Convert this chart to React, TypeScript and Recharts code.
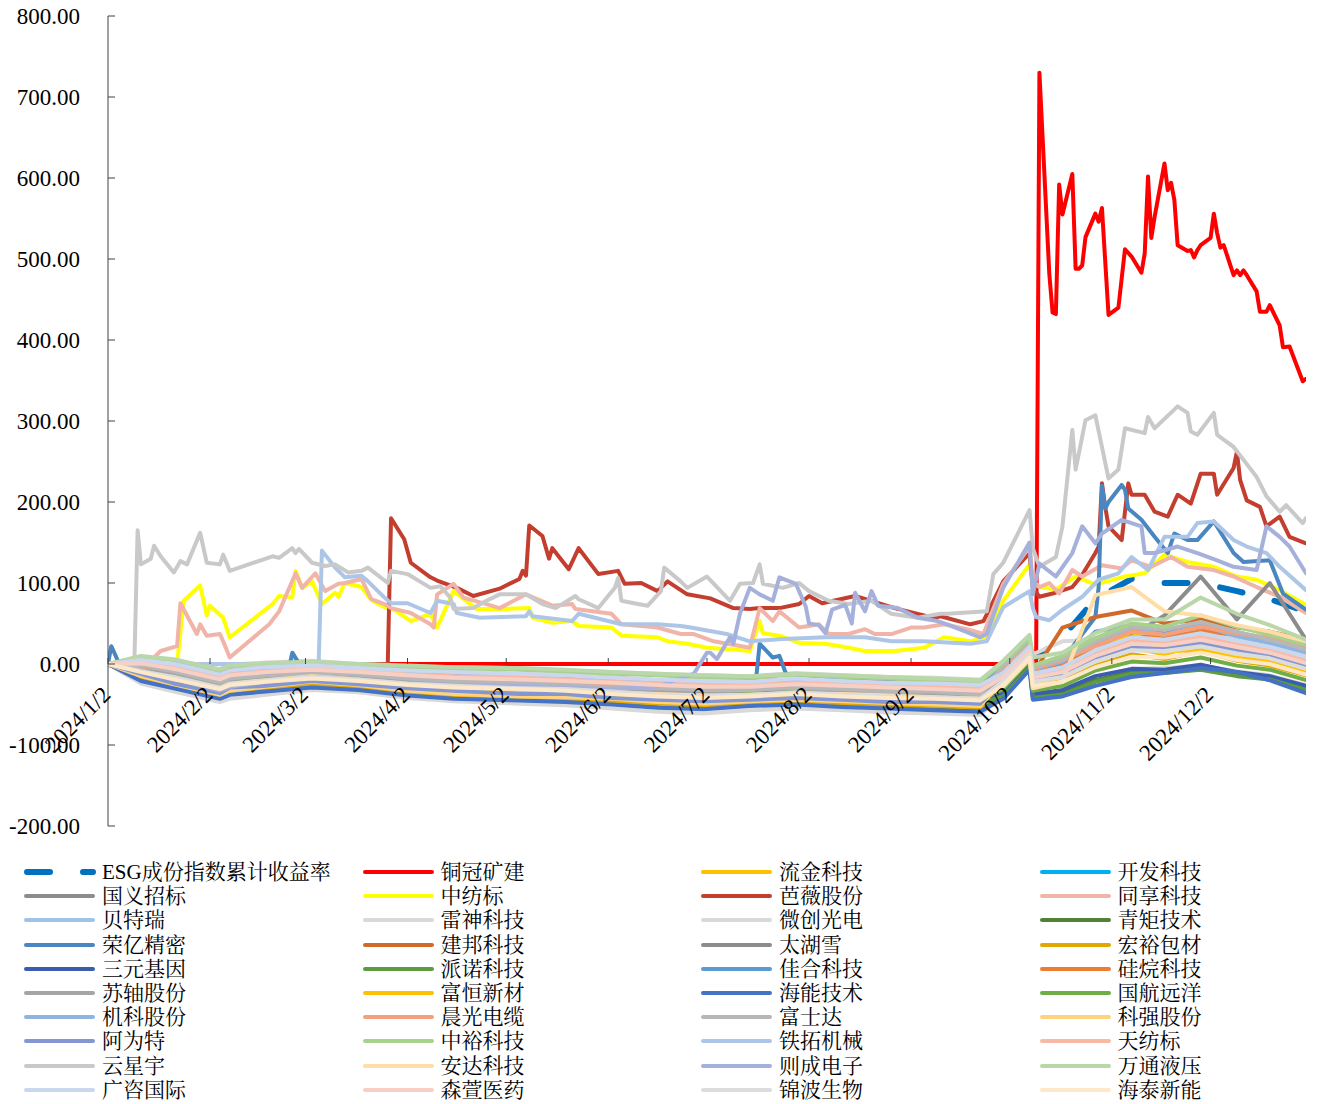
import React from 'react';
import { LineChart, Line, XAxis, YAxis } from 'recharts';

const FONT = "'Liberation Serif', 'Times New Roman', 'Noto Serif CJK SC', 'Noto Sans CJK SC', serif";

const CHART_W = 1317;
const CHART_H = 858;
const PLOT_TOP = 16;
const PLOT_H = 810;
const Y_MIN = -200;
const Y_MAX = 800;
const ZERO_Y = PLOT_TOP + (Y_MAX / (Y_MAX - Y_MIN)) * PLOT_H;

// axis labels
const monthTicks = ['1/2', '2/2', '3/2', '4/2', '5/2', '6/2', '7/2', '8/2', '9/2', '10/2', '11/2', '12/2'];
const yTicks = [-200, -100, 0, 100, 200, 300, 400, 500, 600, 700, 800];

// coarse date grid used by the crowded series near zero
const gridDates = ['1/2', '1/12', '1/22', '2/5', '2/8', '2/19', '3/4', '3/18', '4/2', '4/16', '5/6', '5/20', '6/3', '6/17', '7/1', '7/15',
  '7/29', '8/12', '8/26', '9/9', '9/23', '9/30', '10/8', '10/9', '10/18', '10/28', '11/8', '11/18', '11/29', '12/10', '12/20', '12/31'];

const esg = [0, -6, -13, -26, -20, -17, -12, -15, -21, -23, -25, -27, -30, -33, -35, -34, -31, -34, -36, -37, -39, -10, 20, 5, 33, 80, 105, 100, 100, 90, 80, 65];
const liujin = [0, -14, -26, -38, -30, -27, -24, -25, -34, -38, -41, -39, -44, -46, -50, -45, -42, -47, -49, -51, -53, -22, 14, -24, -14, 6, 20, 12, 25, 10, 5, -8];
const kaifa = [0, -1, -10, -20, -14, -12, -7, -13, -18, -20, -22, -21, -27, -29, -31, -28, -25, -30, -32, -34, -36, -15, 18, -18, -8, 12, 28, 20, 32, 18, 12, -2];
const guoyi = [0, -6, -14, -26, -19, -17, -11, -16, -21, -24, -26, -28, -31, -33, -36, -33, -30, -34, -36, -38, -40, -6, 25, -10, 2, 22, 40, 30, 45, 30, 22, 10];
const beiterui = [0, 2, -5, -18, -13, -9, -6, -11, -15, -17, -19, -20, -24, -25, -29, -27, -24, -28, -29, -31, -33, -12, 20, -15, -5, 15, 30, 24, 36, 22, 16, 3];
const leishen = [0, 9, 5, -6, -1, 2, 4, 0, -3, -4, -5, -8, -10, -12, -14, -15, -11, -14, -16, -17, -19, -3, 32, 12, 28, 30, 38, 34, 40, 32, 26, 12];
const weichuang = [0, -24, -34, -47, -43, -38, -32, -35, -42, -46, -49, -51, -55, -59, -61, -57, -55, -57, -60, -61, -63, -36, 0, -38, -33, -17, -6, -5, -2, -9, -14, -26];
const qingju = [0, -19, -29, -42, -37, -33, -27, -30, -37, -41, -43, -44, -48, -52, -54, -50, -48, -51, -53, -54, -56, -38, -3, -40, -36, -20, -10, -9, -5, -13, -17, -30];
const jianbang = [0, 4, -2, -12, -6, -4, -1, -4, -5, -9, -13, -14, -17, -20, -22, -21, -19, -22, -23, -25, -27, -10, 22, -12, 45, 58, 66, 50, 55, 45, 40, 30];
const taihuxue = [0, -8, -13, -28, -21, -19, -15, -17, -23, -25, -27, -30, -33, -35, -37, -35, -33, -36, -38, -39, -41, -18, 15, -20, -12, 10, 35, 60, 108, 55, 100, 30];
const hongyu = [0, -16, -27, -40, -35, -30, -26, -28, -35, -39, -44, -45, -46, -49, -52, -48, -46, -49, -51, -52, -54, -27, 8, -28, -21, -2, 12, 6, 16, 4, -2, -14];
const sanyuan = [0, -13, -23, -35, -31, -26, -22, -24, -31, -34, -36, -38, -41, -45, -47, -43, -41, -44, -46, -48, -50, -35, 2, -37, -32, -15, -6, -7, -1, -10, -15, -27];
const painuo = [0, -11, -21, -36, -30, -24, -20, -23, -29, -32, -34, -36, -40, -42, -45, -41, -39, -42, -45, -46, -48, -40, -4, -42, -38, -22, -12, -11, -7, -15, -19, -32];
const jiahe = [0, 3, -3, -16, -11, -8, -4, -9, -12, -15, -17, -19, -21, -23, -26, -25, -22, -25, -27, -29, -31, -6, 28, -8, 0, 40, 48, 40, 50, 38, 30, 18];
const guiwan = [0, -4, -11, -22, -17, -15, -10, -14, -19, -20, -24, -25, -28, -31, -33, -31, -28, -32, -33, -35, -37, -9, 21, -11, -2, 18, 34, 33, 40, 36, 32, 22];
const suzhou = [0, -4, -12, -24, -21, -16, -13, -15, -20, -22, -25, -27, -30, -34, -35, -34, -31, -33, -35, -37, -39, -17, 15, -17, -11, 9, 24, 23, 28, 20, 14, 2];
const fuheng = [0, -9, -19, -30, -27, -22, -18, -21, -27, -30, -32, -33, -37, -40, -42, -39, -37, -40, -42, -43, -45, -25, 8, -26, -15, 12, 40, 15, 18, 8, 2, -10];
const haineng = [0, -21, -30, -43, -38, -34, -29, -32, -39, -43, -45, -47, -50, -54, -56, -52, -50, -53, -55, -57, -59, -43, -7, -44, -40, -27, -16, -11, -5, -10, -20, -36];
const guohang = [0, -8, -17, -29, -24, -20, -16, -19, -25, -27, -30, -32, -35, -38, -40, -37, -35, -38, -40, -42, -44, -31, 4, -33, -27, -8, 3, 1, 8, -2, -7, -20];
const jike = [0, 4, -1, -14, -9, -6, -3, -7, -10, -12, -15, -16, -19, -21, -24, -23, -20, -23, -25, -26, -29, -5, 26, -7, 3, 26, 44, 36, 48, 34, 26, 14];
const chenguang = [0, -3, -7, -22, -15, -11, -9, -12, -17, -19, -20, -23, -25, -28, -30, -29, -27, -29, -31, -33, -35, -4, 27, -6, 5, 22, 40, 36, 46, 38, 32, 22];
const fushida = [0, -2, -9, -23, -18, -14, -11, -13, -18, -21, -23, -26, -29, -30, -32, -32, -29, -31, -34, -34, -38, -2, 28, -4, 6, 28, 46, 42, 52, 40, 30, 18];
const keqiang = [0, -15, -25, -38, -33, -28, -22, -26, -33, -37, -40, -41, -43, -47, -49, -46, -44, -46, -48, -50, -52, -20, 12, -22, -16, 4, 18, 15, 22, 12, 8, -5];
const aweite = [0, -12, -24, -36, -29, -27, -21, -25, -30, -33, -37, -37, -42, -44, -46, -44, -42, -44, -47, -47, -49, -18, 14, -20, -12, 8, 22, 18, 26, 16, 9, -3];
const zhongyu = [0, 8, 5, -8, -3, 0, 2, -2, -4, -6, -7, -10, -12, -14, -17, -17, -13, -16, -18, -20, -22, 2, 32, -2, 10, 32, 50, 46, 60, 46, 36, 24];
const tianfangbiao = [0, 2, -4, -17, -13, -9, -5, -8, -13, -15, -16, -19, -22, -24, -25, -26, -23, -24, -26, -28, -30, -12, 18, -14, -6, 14, 28, 26, 34, 24, 18, 6];
const anda = [0, -8, -18, -30, -25, -20, -15, -19, -25, -28, -29, -31, -35, -37, -39, -38, -36, -37, -39, -41, -43, -28, 6, -30, -22, 85, 95, 65, 60, 48, 40, 28];
const wantong = [0, 10, 6, -7, -2, 1, 3, 0, -2, -4, -5, -7, -10, -12, -14, -15, -12, -14, -16, -18, -20, 4, 36, 8, 14, 38, 55, 55, 82, 62, 48, 30];
const guangzi = [0, 5, 0, -13, -8, -4, -2, -5, -8, -10, -12, -14, -17, -19, -21, -22, -18, -21, -23, -24, -26, -11, 21, -12, -4, 17, 33, 30, 38, 29, 21, 9];
const senxuan = [0, 1, -6, -19, -14, -10, -7, -10, -14, -17, -19, -21, -23, -26, -28, -28, -25, -27, -29, -31, -33, -16, 16, -17, -10, 10, 25, 23, 30, 21, 14, 1];
const jinbo = [0, -9, -16, -29, -24, -20, -16, -19, -24, -27, -30, -31, -34, -38, -40, -38, -35, -38, -40, -41, -43, -21, 12, -22, -16, 3, 17, 16, 22, 13, 7, -6];
const haitai = [0, -10, -19, -31, -26, -22, -18, -21, -26, -29, -31, -33, -37, -40, -42, -40, -37, -40, -42, -43, -45, -26, 8, -27, -22, -4, 9, 8, 14, 5, 0, -13];

type Pt = [string, number];

// series that stand out get their own dates
const tongguan: Pt[] = [['1/2', 0], ['10/10', 0], ['10/11', 730], ['10/14', 482], ['10/15', 434], ['10/16', 432], ['10/17', 592], ['10/18', 555],
  ['10/21', 605], ['10/22', 488], ['10/23', 488], ['10/24', 492], ['10/25', 527], ['10/28', 556], ['10/29', 546], ['10/30', 563], ['11/1', 431],
  ['11/4', 440], ['11/6', 512], ['11/8', 503], ['11/11', 483], ['11/12', 507], ['11/13', 602], ['11/14', 526], ['11/15', 552], ['11/18', 618],
  ['11/19', 585], ['11/20', 594], ['11/21', 573], ['11/22', 517], ['11/25', 510], ['11/26', 511], ['11/27', 502], ['11/28', 511], ['11/29', 517],
  ['12/2', 526], ['12/3', 556], ['12/4', 532], ['12/5', 514], ['12/6', 517], ['12/9', 480], ['12/10', 486], ['12/11', 480], ['12/12', 486],
  ['12/13', 480], ['12/16', 460], ['12/17', 435], ['12/19', 435], ['12/20', 443], ['12/23', 418], ['12/24', 391], ['12/26', 392], ['12/30', 349], ['12/31', 352]];

const zhongfangbiao: Pt[] = [['1/2', 0], ['1/23', 0], ['1/25', 78], ['1/30', 97], ['2/1', 60], ['2/2', 72], ['2/6', 57], ['2/8', 33], ['2/21', 74],
  ['2/23', 84], ['2/27', 82], ['2/28', 115], ['3/1', 94], ['3/4', 102], ['3/7', 74], ['3/11', 88], ['3/12', 83], ['3/14', 100], ['3/19', 95],
  ['3/22', 79], ['3/26', 70], ['3/29', 67], ['4/3', 53], ['4/9', 62], ['4/11', 45], ['4/16', 90], ['4/23', 68], ['4/30', 68], ['5/9', 69],
  ['5/10', 57], ['5/16', 51], ['5/22', 53], ['5/24', 47], ['6/3', 45], ['6/6', 35], ['6/17', 33], ['6/20', 28], ['6/26', 25], ['7/2', 20],
  ['7/10', 18], ['7/15', 16], ['7/18', 53], ['7/19', 38], ['7/24', 35], ['7/30', 26], ['8/7', 25], ['8/14', 20], ['8/19', 16], ['8/28', 16],
  ['9/6', 20], ['9/12', 33], ['9/20', 28], ['9/25', 33], ['9/30', 78], ['10/8', 123], ['10/9', 102], ['10/11', 95], ['10/16', 92], ['10/22', 108],
  ['10/28', 98], ['11/6', 108], ['11/12', 112], ['11/18', 135], ['11/25', 126], ['12/3', 120], ['12/10', 108], ['12/16', 104], ['12/23', 91], ['12/31', 73]];

const tongxiang: Pt[] = [['1/2', 0], ['1/5', -6], ['1/10', -4], ['1/16', 8], ['1/18', 16], ['1/23', 22], ['1/24', 75], ['1/29', 37], ['1/30', 49],
  ['2/1', 35], ['2/5', 37], ['2/6', 28], ['2/8', 8], ['2/20', 49], ['2/23', 65], ['2/28', 112], ['3/1', 94], ['3/5', 112], ['3/8', 90], ['3/12', 99],
  ['3/14', 100], ['3/19', 105], ['3/22', 80], ['3/26', 74], ['3/28', 69], ['4/3', 63], ['4/9', 49], ['4/10', 45], ['4/11', 86], ['4/16', 99],
  ['4/19', 82], ['4/26', 74], ['4/30', 69], ['5/8', 86], ['5/16', 72], ['5/22', 74], ['5/23', 68], ['6/3', 62], ['6/6', 49], ['6/17', 45],
  ['6/24', 37], ['6/28', 37], ['7/4', 28], ['7/15', 20], ['7/18', 69], ['7/22', 53], ['7/24', 65], ['7/30', 45], ['8/5', 49], ['8/8', 37],
  ['8/14', 37], ['8/19', 43], ['8/22', 37], ['8/27', 37], ['9/2', 45], ['9/6', 45], ['9/12', 49], ['9/19', 43], ['9/24', 37], ['9/30', 99],
  ['10/8', 145], ['10/9', 100], ['10/11', 95], ['10/14', 100], ['10/17', 87], ['10/21', 116], ['10/24', 108], ['10/30', 122], ['11/5', 118],
  ['11/8', 128], ['11/14', 120], ['11/20', 132], ['11/25', 120], ['12/3', 116], ['12/9', 108], ['12/16', 95], ['12/23', 83], ['12/31', 63]];

const baowei: Pt[] = [['1/2', 0], ['3/27', 0], ['3/28', 180], ['4/1', 154], ['4/3', 125], ['4/9', 107], ['4/11', 103], ['4/17', 94], ['4/22', 84],
  ['4/30', 93], ['5/6', 105], ['5/7', 115], ['5/8', 109], ['5/9', 171], ['5/13', 158], ['5/15', 130], ['5/16', 143], ['5/21', 117], ['5/24', 143],
  ['5/30', 111], ['6/5', 115], ['6/7', 99], ['6/12', 100], ['6/17', 90], ['6/20', 102], ['6/26', 86], ['7/3', 81], ['7/10', 69], ['7/15', 68],
  ['7/18', 69], ['7/24', 69], ['7/30', 74], ['8/2', 84], ['8/6', 75], ['8/16', 84], ['8/28', 69], ['9/9', 57], ['9/11', 59], ['9/20', 49],
  ['9/24', 53], ['9/30', 102], ['10/8', 137], ['10/9', 94], ['10/11', 83], ['10/15', 87], ['10/21', 95], ['10/24', 110], ['10/28', 137],
  ['10/29', 145], ['10/30', 223], ['10/31', 194], ['11/1', 170], ['11/5', 153], ['11/7', 223], ['11/8', 209], ['11/12', 209], ['11/15', 188],
  ['11/19', 182], ['11/22', 209], ['11/26', 198], ['11/29', 235], ['12/3', 235], ['12/4', 209], ['12/9', 242], ['12/10', 262], ['12/11', 227],
  ['12/13', 202], ['12/17', 194], ['12/19', 170], ['12/23', 182], ['12/26', 157], ['12/31', 149]];

const rongyi: Pt[] = [['1/2', 0], ['1/3', 22], ['1/5', 4], ['1/12', -4], ['1/22', -14], ['2/5', -28], ['2/8', -24], ['2/19', -20], ['2/26', -5],
  ['2/27', 14], ['3/1', -6], ['3/18', -14], ['4/2', -16], ['4/16', -19], ['5/6', -21], ['5/20', -23], ['6/3', -26], ['6/17', -28], ['7/1', -30],
  ['7/15', -25], ['7/17', -15], ['7/18', 25], ['7/22', 8], ['7/24', 10], ['7/26', -12], ['8/12', -20], ['8/26', -22], ['9/9', -24], ['9/23', -26],
  ['9/30', -5], ['10/8', 30], ['10/9', -8], ['10/18', 5], ['10/28', 58], ['10/29', 95], ['10/30', 220], ['10/31', 192], ['11/1', 200], ['11/5', 221],
  ['11/6', 215], ['11/7', 192], ['11/11', 178], ['11/15', 157], ['11/19', 137], ['11/21', 161], ['11/25', 153], ['11/28', 153], ['12/3', 176],
  ['12/9', 137], ['12/12', 126], ['12/20', 128], ['12/24', 87], ['12/31', 67]];

const tietuo: Pt[] = [['1/2', 0], ['3/6', 0], ['3/7', 140], ['3/11', 119], ['3/14', 107], ['3/19', 109], ['3/21', 102], ['3/26', 82], ['3/28', 75],
  ['4/2', 75], ['4/9', 63], ['4/11', 78], ['4/16', 74], ['4/17', 63], ['4/24', 57], ['5/8', 59], ['5/9', 65], ['5/10', 59], ['5/22', 53], ['5/24', 62],
  ['6/6', 49], ['6/17', 49], ['6/24', 47], ['6/27', 45], ['7/8', 37], ['7/15', 28], ['7/25', 31], ['8/7', 33], ['8/19', 33], ['8/27', 28],
  ['9/6', 28], ['9/20', 25], ['9/25', 28], ['9/27', 45], ['9/30', 70], ['10/8', 90], ['10/9', 69], ['10/10', 58], ['10/14', 54], ['10/18', 67],
  ['10/24', 83], ['10/29', 104], ['11/4', 112], ['11/8', 132], ['11/13', 116], ['11/18', 157], ['11/25', 157], ['11/28', 174], ['12/3', 176],
  ['12/9', 153], ['12/13', 145], ['12/19', 137], ['12/23', 120], ['12/31', 91]];

const yunxingyu: Pt[] = [['1/2', 0], ['1/10', 0], ['1/11', 165], ['1/12', 123], ['1/15', 130], ['1/16', 146], ['1/18', 133], ['1/22', 113], ['1/24', 127],
  ['1/26', 123], ['1/30', 162], ['2/1', 125], ['2/5', 123], ['2/6', 135], ['2/8', 115], ['2/21', 133], ['2/23', 131], ['2/27', 143], ['2/28', 137],
  ['2/29', 142], ['3/4', 125], ['3/8', 121], ['3/11', 123], ['3/15', 113], ['3/19', 115], ['3/21', 119], ['3/27', 100], ['3/28', 115], ['4/2', 111],
  ['4/9', 94], ['4/12', 96], ['4/15', 82], ['4/16', 68], ['4/22', 69], ['4/26', 78], ['4/30', 86], ['5/8', 86], ['5/13', 74], ['5/17', 69],
  ['5/23', 84], ['5/24', 80], ['5/30', 69], ['6/4', 94], ['6/5', 106], ['6/6', 78], ['6/11', 74], ['6/14', 72], ['6/18', 90], ['6/19', 119],
  ['6/24', 102], ['6/26', 94], ['7/2', 108], ['7/9', 78], ['7/12', 99], ['7/16', 100], ['7/18', 123], ['7/19', 99], ['7/25', 94], ['7/30', 100],
  ['8/2', 90], ['8/8', 78], ['8/14', 74], ['8/21', 78], ['8/27', 62], ['9/4', 57], ['9/11', 62], ['9/13', 62], ['9/25', 65], ['9/27', 111],
  ['9/30', 125], ['10/8', 190], ['10/9', 143], ['10/11', 120], ['10/16', 132], ['10/18', 170], ['10/21', 289], ['10/22', 240], ['10/25', 301],
  ['10/28', 307], ['10/30', 268], ['11/1', 229], ['11/4', 240], ['11/6', 291], ['11/12', 285], ['11/13', 305], ['11/15', 291], ['11/22', 318],
  ['11/25', 310], ['11/26', 287], ['11/28', 283], ['12/3', 310], ['12/4', 283], ['12/9', 268], ['12/16', 231], ['12/19', 207], ['12/23', 188],
  ['12/25', 196], ['12/30', 174], ['12/31', 180]];

const zecheng: Pt[] = [['1/2', 0], ['1/12', -8], ['1/22', -18], ['2/5', -33], ['2/8', -28], ['2/19', -22], ['3/4', -16], ['3/18', -19], ['4/2', -24],
  ['4/16', -26], ['5/6', -27], ['5/20', -29], ['6/3', -31], ['6/17', -28], ['6/28', -12], ['7/2', 14], ['7/3', 14], ['7/5', 6], ['7/9', 33],
  ['7/10', 25], ['7/12', 62], ['7/15', 94], ['7/18', 86], ['7/22', 78], ['7/24', 107], ['7/29', 99], ['8/1', 71], ['8/2', 50], ['8/5', 48],
  ['8/7', 38], ['8/9', 67], ['8/13', 73], ['8/15', 50], ['8/16', 88], ['8/19', 65], ['8/21', 90], ['8/23', 72], ['8/29', 69], ['9/4', 57],
  ['9/10', 53], ['9/13', 49], ['9/23', 33], ['9/25', 37], ['9/30', 94], ['10/8', 150], ['10/9', 86], ['10/11', 124], ['10/16', 108], ['10/21', 137],
  ['10/24', 170], ['10/28', 149], ['10/30', 161], ['11/5', 178], ['11/11', 170], ['11/12', 137], ['11/15', 137], ['11/22', 145], ['11/28', 137],
  ['12/4', 128], ['12/9', 120], ['12/16', 116], ['12/19', 170], ['12/23', 157], ['12/26', 145], ['12/31', 112]];

const onGrid = (vals: number[]): Pt[] => gridDates.map((d, i) => [d, vals[i]] as Pt);

const BASE = Date.UTC(2024, 0, 2);
const dayOf = (md: string) => {
  const [m, d] = md.split('/').map(Number);
  return (Date.UTC(2024, m - 1, d) - BASE) / 86400000;
};
const tickDays = monthTicks.map(dayOf);

interface Series {
  name: string;
  color: string;
  points: Pt[];
  width?: number;
  dash?: string;
}

// legend order = drawing order
const seriesList: Series[] = [
  { name: 'ESG成份指数累计收益率', color: '#0070C0', points: onGrid(esg), width: 6, dash: '23 33' },
  { name: '铜冠矿建', color: '#FF0000', points: tongguan },
  { name: '流金科技', color: '#FFC000', points: onGrid(liujin) },
  { name: '开发科技', color: '#00B0F0', points: onGrid(kaifa) },
  { name: '国义招标', color: '#8C8C8C', points: onGrid(guoyi) },
  { name: '中纺标', color: '#FFFF00', points: zhongfangbiao },
  { name: '芭薇股份', color: '#C43E2F', points: baowei },
  { name: '同享科技', color: '#F0B4A8', points: tongxiang },
  { name: '贝特瑞', color: '#9DC3E6', points: onGrid(beiterui) },
  { name: '雷神科技', color: '#D9D9D9', points: onGrid(leishen) },
  { name: '微创光电', color: '#D9D9D9', points: onGrid(weichuang) },
  { name: '青矩技术', color: '#548235', points: onGrid(qingju) },
  { name: '荣亿精密', color: '#4A86C0', points: rongyi },
  { name: '建邦科技', color: '#D0692A', points: onGrid(jianbang) },
  { name: '太湖雪', color: '#8C8C8C', points: onGrid(taihuxue) },
  { name: '宏裕包材', color: '#E0A800', points: onGrid(hongyu) },
  { name: '三元基因', color: '#3A5DAE', points: onGrid(sanyuan) },
  { name: '派诺科技', color: '#5E9A3E', points: onGrid(painuo) },
  { name: '佳合科技', color: '#5B9BD5', points: onGrid(jiahe) },
  { name: '硅烷科技', color: '#ED7D31', points: onGrid(guiwan) },
  { name: '苏轴股份', color: '#A5A5A5', points: onGrid(suzhou) },
  { name: '富恒新材', color: '#FFC000', points: onGrid(fuheng) },
  { name: '海能技术', color: '#4472C4', points: onGrid(haineng) },
  { name: '国航远洋', color: '#70AD47', points: onGrid(guohang) },
  { name: '机科股份', color: '#8FB4E0', points: onGrid(jike) },
  { name: '晨光电缆', color: '#F4A07A', points: onGrid(chenguang) },
  { name: '富士达', color: '#B7B7B7', points: onGrid(fushida) },
  { name: '科强股份', color: '#FFD27F', points: onGrid(keqiang) },
  { name: '阿为特', color: '#8497D2', points: onGrid(aweite) },
  { name: '中裕科技', color: '#A9D18E', points: onGrid(zhongyu) },
  { name: '铁拓机械', color: '#ADC6E8', points: tietuo },
  { name: '天纺标', color: '#F8B9A5', points: onGrid(tianfangbiao) },
  { name: '云星宇', color: '#C9C9C9', points: yunxingyu },
  { name: '安达科技', color: '#FFDDA6', points: onGrid(anda) },
  { name: '则成电子', color: '#A5B1DA', points: zecheng },
  { name: '万通液压', color: '#B9D7A8', points: onGrid(wantong) },
  { name: '广咨国际', color: '#C9D8EE', points: onGrid(guangzi) },
  { name: '森萱医药', color: '#F8CFC4', points: onGrid(senxuan) },
  { name: '锦波生物', color: '#DCDCDC', points: onGrid(jinbo) },
  { name: '海泰新能', color: '#FFE8C8', points: onGrid(haitai) },
];

const XTick = (props: any) => {
  const { x, payload } = props;
  const i = tickDays.indexOf(payload.value);
  const label = '2024/' + monthTicks[i];
  const bx = x + 4;
  const by = ZERO_Y + 32;
  return (
    <g>
      <line x1={x} x2={x} y1={ZERO_Y - 6} y2={ZERO_Y} stroke="#404040" strokeWidth={1} />
      <text x={bx} y={by} textAnchor="end" transform={`rotate(-45 ${bx} ${by})`}
        fontFamily={FONT} fontSize={23} fill="#000">{label}</text>
    </g>
  );
};

const YTick = (props: any) => {
  const { x, y, payload } = props;
  return (
    <g>
      <line x1={x} x2={x + 7} y1={y} y2={y} stroke="#404040" strokeWidth={1} />
      <text x={x - 28} y={y} dy="0.35em" textAnchor="end" fontFamily={FONT} fontSize={23} fill="#000">
        {Number(payload.value).toFixed(2)}
      </text>
    </g>
  );
};

const LegendBox = () => (
  <div style={{
    position: 'absolute', left: 24, top: 860, display: 'grid',
    gridTemplateColumns: 'repeat(4, 338.5px)', gridAutoRows: '24.2px',
  }}>
    {seriesList.map((s) => (
      <div key={s.name} style={{ display: 'flex', alignItems: 'center', height: 24.2, whiteSpace: 'nowrap' }}>
        <svg width={78} height={12} style={{ flex: 'none' }}>
          <line x1={s.dash ? 3 : 2} x2={69} y1={6} y2={6} stroke={s.color}
            strokeWidth={s.width ?? 4} strokeDasharray={s.dash} strokeLinecap="round" />
        </svg>
        <span style={{ fontFamily: FONT, fontSize: 21, lineHeight: '24px', color: '#000' }}>{s.name}</span>
      </div>
    ))}
  </div>
);

export default function App() {
  return (
    <div style={{ position: 'relative', width: CHART_W, height: 1104, margin: '-8px 0 0 -8px', background: '#fff' }}>
      <LineChart width={CHART_W} height={CHART_H} margin={{ top: PLOT_TOP, right: 11, bottom: 0, left: 0 }}>
        <XAxis type="number" dataKey="t" domain={[0, 364]} ticks={tickDays} interval={0} height={CHART_H - PLOT_TOP - PLOT_H}
          axisLine={false} tickLine={false} tick={(p: any) => <XTick {...p} />} allowDataOverflow />
        <YAxis type="number" domain={[Y_MIN, Y_MAX]} ticks={yTicks} interval={0} width={108}
          axisLine={{ stroke: '#404040', strokeWidth: 1 }} tickLine={false} tickSize={0} tickMargin={0}
          tick={(p: any) => <YTick {...p} />} allowDataOverflow />
        {seriesList.map((s) => (
          <Line
            key={s.name}
            data={s.points.filter((p) => p[1] !== undefined).map(([d, v]) => ({ t: dayOf(d), v }))}
            dataKey="v"
            type="linear"
            stroke={s.color}
            strokeWidth={s.width ?? 4}
            strokeDasharray={s.dash}
            strokeLinejoin="round"
            strokeLinecap="round"
            dot={false}
            activeDot={false}
            isAnimationActive={false}
          />
        ))}
      </LineChart>
      <LegendBox />
    </div>
  );
}
